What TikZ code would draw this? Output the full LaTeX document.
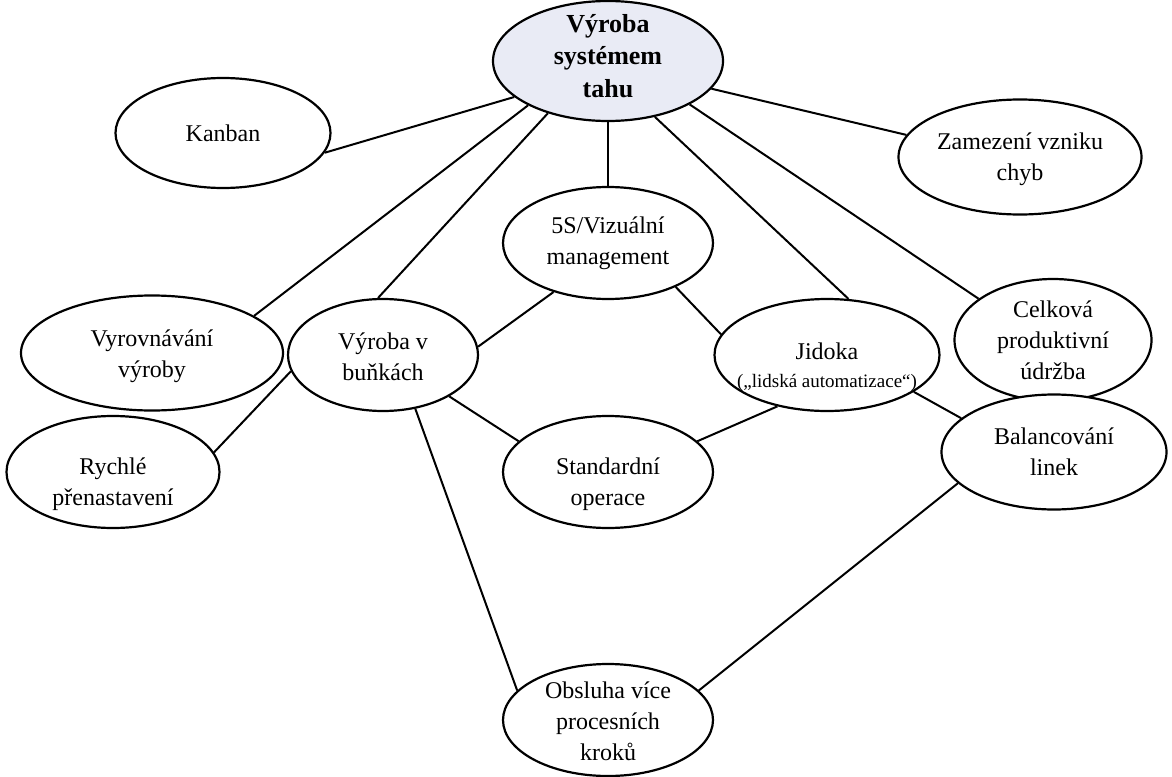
\documentclass[tikz,border=0pt]{standalone}
\usepackage{fontspec}
\setmainfont{Liberation Serif}
\usetikzlibrary{shapes.geometric}
\definecolor{hubfill}{HTML}{E9EBF5}
\tikzset{
  bub/.style={ellipse, draw=black, line width=2.2pt, fill=white, inner sep=0pt},
  hub/.style={bub, fill=hubfill},
  txt/.style={align=center, inner sep=0pt, font=\fontsize{24}{31}\selectfont},
  hubtxt/.style={txt, font=\fontsize{26}{32.5}\selectfont\bfseries},
  link/.style={draw=black, line width=2pt}
}
\begin{document}
\begin{tikzpicture}[x=1pt,y=-1pt]
\useasboundingbox (0,0) rectangle (1172,776);

% ellipses
\node[hub, minimum width=230pt, minimum height=120pt] (top) at (608,61) {};
\node[bub, minimum width=215pt, minimum height=110pt] (kanban) at (223,133) {};
\node[bub, minimum width=243pt, minimum height=115pt] (zam) at (1020,157) {};
\node[bub, minimum width=210pt, minimum height=112pt] (s5) at (608,243) {};
\node[bub, minimum width=262pt, minimum height=115pt] (vyr) at (152,353) {};
\node[bub, minimum width=197pt, minimum height=122pt] (cel) at (1053,340) {};
\node[bub, minimum width=190pt, minimum height=112pt] (bun) at (383,355) {};
\node[bub, minimum width=225pt, minimum height=112pt] (jid) at (827,355) {};
\node[bub, minimum width=213pt, minimum height=112pt] (rych) at (113,472) {};
\node[bub, minimum width=210pt, minimum height=112pt] (std) at (608,472) {};
\node[bub, minimum width=225pt, minimum height=115pt] (bal) at (1054,452) {};
\node[bub, minimum width=210pt, minimum height=112pt] (obs) at (608,720) {};

% labels
\node[hubtxt] (top-t) at ([yshift=5pt]top.center) {Výroba\\systémem\\tahu};
\node[txt] (kanban-t) at (kanban.center) {Kanban};
\node[txt] (zam-t) at ([yshift=-2pt]zam.center) {Zamezení vzniku\\chyb};
\node[txt] (s5-t) at (s5.center) {5S/Vizuální\\management};
\node[txt] (vyr-t) at ([yshift=-3pt]vyr.center) {Vyrovnávání\\výroby};
\node[txt] (cel-t) at (cel.center) {Celková\\produktivní\\údržba};
\node[txt] (bun-t) at ([yshift=-2pt]bun.center) {Výroba v\\buňkách};
\node[txt, font=\fontsize{24}{28}\selectfont] (jid-t) at ([yshift=-12pt]jid.center) {Jidoka\\{\fontsize{19}{22}\selectfont(„lidská automatizace“)}};
\node[txt] (rych-t) at ([yshift=-12pt]rych.center) {Rychlé\\přenastavení};
\node[txt] (std-t) at ([yshift=-12pt]std.center) {Standardní\\operace};
\node[txt] (bal-t) at (bal.center) {Balancování\\linek};
\node[txt] (obs-t) at ([yshift=-1pt]obs.center) {Obsluha více\\procesních\\kroků};

% connectors
\draw[link] (top.201) -- (kanban.349);
\draw[link] (top.209) -- (vyr.20);
\draw[link] (top.221) -- (bun.95);
\draw[link] (top.270) -- (s5.90);
\draw[link] (top.310) -- (jid.69);
\draw[link] (top.332) -- (cel.151);
\draw[link] (top.345) -- (zam.169);
\draw[link] (s5.222) -- (bun.5);
\draw[link] (s5.327) -- (jid.169);
\draw[link] (bun.190) -- (rych.11);
\draw[link] (bun.328) -- (std.161);
\draw[link] (bun.301) -- (obs.162);
\draw[link] (jid.226) -- (std.19);
\draw[link] (jid.337) -- (bal.160);
\draw[link] (bal.198) -- (obs.18);
\end{tikzpicture}
\end{document}
